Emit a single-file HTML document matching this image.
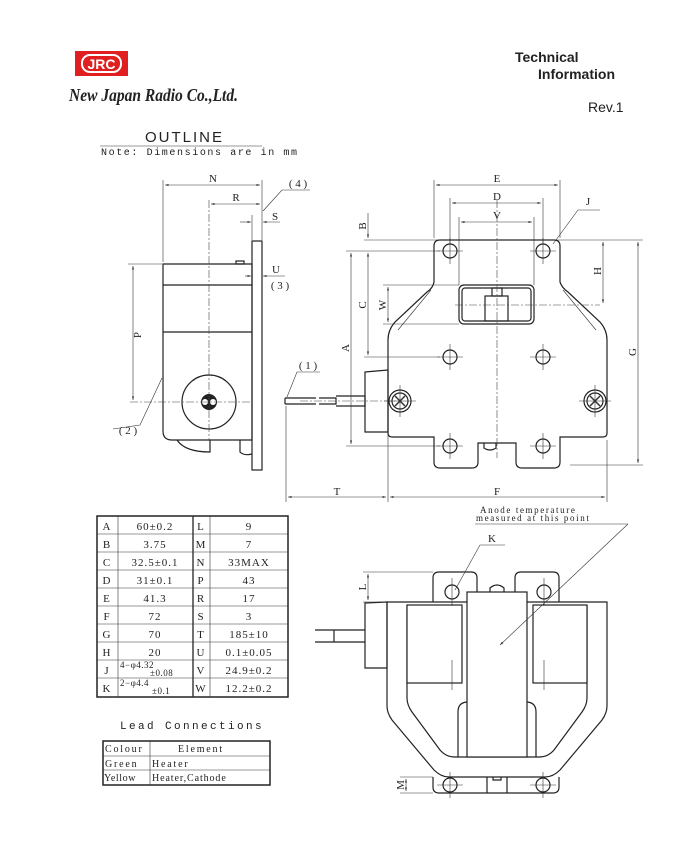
<!DOCTYPE html>
<html><head><meta charset="utf-8"><style>
html,body{margin:0;padding:0;background:#fff;}
svg{display:block;}
text{font-family:"Liberation Serif",serif;fill:#222;}
.l{stroke:#222;fill:none;stroke-width:1.2}
.t{stroke:#333;fill:none;stroke-width:0.6}
.c{stroke:#444;fill:none;stroke-width:0.6;stroke-dasharray:8 2 2 2}
.w{fill:#fff;stroke:#222;stroke-width:1.2}
</style></head><body>
<svg width="697" height="861" viewBox="0 0 697 861" xmlns="http://www.w3.org/2000/svg">
<defs>
<marker id="a" viewBox="0 0 10 6" refX="10" refY="3" markerWidth="6" markerHeight="4" orient="auto-start-reverse"><path d="M0,0L10,3L0,6z" fill="#333"/></marker>
</defs>
<!-- header -->
<rect x="75" y="51" width="53" height="25" fill="#e02020"/>
<rect x="82" y="55" width="39" height="17" rx="8" fill="none" stroke="#fff" stroke-width="2"/>
<text x="101.5" y="69" text-anchor="middle" font-weight="bold" font-size="14" style="fill:#fff;font-family:'Liberation Sans',sans-serif">JRC</text>
<text x="69" y="101" font-size="18" font-style="italic" font-weight="bold" textLength="169" lengthAdjust="spacingAndGlyphs" style="font-family:'Liberation Serif',serif">New Japan Radio Co.,Ltd.</text>
<text x="515" y="62" font-size="14" font-weight="bold" style="font-family:'Liberation Sans',sans-serif">Technical</text>
<text x="538" y="79" font-size="14" font-weight="bold" style="font-family:'Liberation Sans',sans-serif">Information</text>
<text x="588" y="112" font-size="14" style="font-family:'Liberation Sans',sans-serif">Rev.1</text>
<text x="145" y="142" font-size="15" letter-spacing="2" style="font-family:'Liberation Sans',sans-serif">OUTLINE</text>
<line x1="100" y1="146" x2="262" y2="146" stroke="#999" stroke-width="1"/>
<text x="101" y="155" font-size="10" letter-spacing="1.6" style="font-family:'Liberation Mono',monospace">Note: Dimensions are in mm</text>

<!-- SIDE VIEW -->
<path class="l" d="M163,264 H252 V440 H172 Q163,440 163,431 Z"/>
<line class="l" x1="163" y1="285" x2="252" y2="285"/>
<line class="l" x1="163" y1="332" x2="252" y2="332"/>
<rect class="l" x="252" y="241" width="10" height="229"/>
<rect class="l" x="236" y="261" width="8" height="3"/>
<path class="l" d="M177,440 Q185,452 210,452 V440 M240,440 V452 Q244,456 252,454"/>
<circle class="l" cx="209" cy="402" r="27"/>
<circle cx="209" cy="402" r="8" fill="#222"/>
<circle cx="205" cy="402" r="3" fill="#fff"/><circle cx="213" cy="402" r="3" fill="#fff"/>
<line class="c" x1="209" y1="200" x2="209" y2="440"/>
<line class="c" x1="130" y1="402" x2="250" y2="402"/>
<line class="t" x1="163" y1="180" x2="163" y2="262"/>
<line class="t" x1="262" y1="180" x2="262" y2="240"/>
<line class="t" x1="252" y1="215" x2="252" y2="240"/>
<line class="t" x1="165" y1="185" x2="260" y2="185" marker-start="url(#a)" marker-end="url(#a)"/>
<text x="213" y="182" font-size="11" text-anchor="middle">N</text>
<line class="t" x1="211" y1="204" x2="260" y2="204" marker-start="url(#a)" marker-end="url(#a)"/>
<text x="236" y="201" font-size="11" text-anchor="middle">R</text>
<line class="t" x1="240" y1="222" x2="251" y2="222" marker-end="url(#a)"/>
<line class="t" x1="280" y1="222" x2="263" y2="222" marker-end="url(#a)"/>
<text x="275" y="220" font-size="11" text-anchor="middle">S</text>
<polyline class="t" points="263,211 282,190 310,190"/>
<text x="298" y="187" font-size="11" text-anchor="middle">( 4 )</text>
<line class="t" x1="245" y1="276" x2="251" y2="276" marker-end="url(#a)"/>
<line class="t" x1="285" y1="276" x2="263" y2="276" marker-end="url(#a)"/>
<text x="276" y="273" font-size="11" text-anchor="middle">U</text>
<text x="280" y="289" font-size="11" text-anchor="middle">( 3 )</text>
<line class="t" x1="128" y1="264" x2="162" y2="264"/>
<line class="t" x1="133" y1="266" x2="133" y2="400" marker-start="url(#a)" marker-end="url(#a)"/>
<text x="0" y="0" font-size="11" transform="translate(141,335) rotate(-90)" text-anchor="middle">P</text>
<polyline class="t" points="162,378 140,425 113,429"/>
<text x="128" y="434" font-size="11" text-anchor="middle">( 2 )</text>
<!-- lead -->
<path class="l" d="M285,398 H316 M285,404 H316 M285,398 V404 M319,398 H336 V404 H319 M336,396 H365 V406 H336"/>
<path class="l" d="M365,372 L388,370 V432 L365,432 Z"/>
<line class="c" x1="300" y1="401" x2="400" y2="401"/>
<polyline class="t" points="287,397 297,372 320,372"/>
<text x="308" y="369" font-size="11" text-anchor="middle">( 1 )</text>
<line class="t" x1="286" y1="406" x2="286" y2="502"/>
<line class="t" x1="388" y1="434" x2="388" y2="502"/>
<line class="t" x1="288" y1="497" x2="386" y2="497" marker-start="url(#a)" marker-end="url(#a)"/>
<text x="337" y="495" font-size="11" text-anchor="middle">T</text>

<!-- FRONT VIEW -->
<path class="l" d="M440,240 H554 Q560,240 560,246 V282 Q562,288 568,292 L600,322 Q607,330 607,340 V433 Q607,437 603,437 H560 V462 Q560,468 554,468 H522 Q516,468 516,462 V443 H478 V462 Q478,468 472,468 H440 Q434,468 434,462 V437 H392 Q388,437 388,433 V340 Q388,330 395,322 L427,292 Q433,288 434,282 V246 Q434,240 440,240 Z"/>
<path class="t" d="M431,290 L398,330 M563,290 L596,330"/>
<rect class="l" x="459" y="285" width="75" height="39" rx="5"/>
<rect class="l" x="462" y="288" width="69" height="33" rx="3"/>
<rect class="l" x="485" y="296" width="23" height="25"/>
<rect class="l" x="492" y="288" width="10" height="8"/>
<path class="l" d="M484,443 V448 Q490,452 496,448 V443"/>
<line class="c" x1="497" y1="200" x2="497" y2="458"/>
<line class="c" x1="455" y1="305" x2="600" y2="305"/>
<g class="l">
<circle cx="450" cy="251" r="7"/><circle cx="543" cy="251" r="7"/>
<circle cx="450" cy="357" r="7"/><circle cx="543" cy="357" r="7"/>
<circle cx="450" cy="446" r="7"/><circle cx="543" cy="446" r="7"/>
<circle cx="400" cy="401" r="11"/><circle cx="400" cy="401" r="8"/>
<circle cx="595" cy="401" r="11"/><circle cx="595" cy="401" r="8"/>
</g>
<g class="t">
<path d="M437,251H463M450,238V264M530,251H556M543,238V264M437,357H463M450,344V370M530,357H556M543,344V370M437,446H463M450,433V459M530,446H556M543,433V459M384,401H416M400,385V417M579,401H611M595,385V417"/>
<path d="M395,396L405,406M395,406L405,396M590,396L600,406M590,406L600,396" stroke-width="1.5"/>
</g>
<!-- front dims -->
<g class="t">
<line x1="434" y1="180" x2="434" y2="238"/><line x1="560" y1="180" x2="560" y2="238"/>
<line x1="450" y1="198" x2="450" y2="244"/><line x1="543" y1="198" x2="543" y2="244"/>
<line x1="459" y1="217" x2="459" y2="285"/><line x1="534" y1="217" x2="534" y2="285"/>
<line x1="436" y1="185" x2="558" y2="185" marker-start="url(#a)" marker-end="url(#a)"/>
<line x1="452" y1="203" x2="541" y2="203" marker-start="url(#a)" marker-end="url(#a)"/>
<line x1="461" y1="222" x2="532" y2="222" marker-start="url(#a)" marker-end="url(#a)"/>
<line x1="364" y1="240" x2="643" y2="240"/>
<line x1="346" y1="251" x2="440" y2="251"/>
<line x1="364" y1="357" x2="440" y2="357"/>
<line x1="346" y1="446" x2="440" y2="446"/>
<line x1="383" y1="285" x2="459" y2="285"/>
<line x1="383" y1="324" x2="459" y2="324"/>
<line x1="368" y1="213" x2="368" y2="238" marker-end="url(#a)"/>
<line x1="368" y1="253" x2="368" y2="355" marker-start="url(#a)" marker-end="url(#a)"/>
<line x1="351" y1="253" x2="351" y2="444" marker-start="url(#a)" marker-end="url(#a)"/>
<line x1="388" y1="287" x2="388" y2="322" marker-start="url(#a)" marker-end="url(#a)"/>
<line x1="603" y1="242" x2="603" y2="303" marker-start="url(#a)" marker-end="url(#a)"/>
<line x1="638" y1="242" x2="638" y2="463" marker-start="url(#a)" marker-end="url(#a)"/>
<line x1="570" y1="465" x2="643" y2="465"/>
<line x1="607" y1="440" x2="607" y2="502"/>
<line x1="390" y1="497" x2="605" y2="497" marker-start="url(#a)" marker-end="url(#a)"/>
<polyline points="553,244 578,210 600,210"/>
</g>
<text x="497" y="182" font-size="11" text-anchor="middle">E</text>
<text x="497" y="200" font-size="11" text-anchor="middle">D</text>
<text x="497" y="219" font-size="11" text-anchor="middle">V</text>
<text x="588" y="205" font-size="11" text-anchor="middle">J</text>
<text font-size="11" transform="translate(366,226) rotate(-90)" text-anchor="middle">B</text>
<text font-size="11" transform="translate(366,305) rotate(-90)" text-anchor="middle">C</text>
<text font-size="11" transform="translate(349,348) rotate(-90)" text-anchor="middle">A</text>
<text font-size="11" transform="translate(386,305) rotate(-90)" text-anchor="middle">W</text>
<text font-size="11" transform="translate(601,271) rotate(-90)" text-anchor="middle">H</text>
<text font-size="11" transform="translate(636,352) rotate(-90)" text-anchor="middle">G</text>
<text x="497" y="495" font-size="11" text-anchor="middle">F</text>

<!-- TABLE -->
<g>
<rect x="97" y="516" width="191" height="181" fill="none" stroke="#222" stroke-width="1.5"/>
<g class="t" stroke="#444">
<line x1="118" y1="516" x2="118" y2="697"/><line x1="193" y1="516" x2="193" y2="697" stroke-width="1.4"/><line x1="210" y1="516" x2="210" y2="697"/>
<line x1="97" y1="534" x2="288" y2="534"/><line x1="97" y1="552" x2="288" y2="552"/><line x1="97" y1="570" x2="288" y2="570"/>
<line x1="97" y1="588" x2="288" y2="588"/><line x1="97" y1="606" x2="288" y2="606"/><line x1="97" y1="624" x2="288" y2="624"/>
<line x1="97" y1="642" x2="288" y2="642"/><line x1="97" y1="660" x2="288" y2="660"/><line x1="97" y1="678" x2="288" y2="678"/>
</g>
<g font-size="11" text-anchor="middle" letter-spacing="1">
<text x="107" y="530">A</text><text x="155" y="530">60±0.2</text><text x="201" y="530">L</text><text x="249" y="530">9</text>
<text x="107" y="548">B</text><text x="155" y="548">3.75</text><text x="201" y="548">M</text><text x="249" y="548">7</text>
<text x="107" y="566">C</text><text x="155" y="566">32.5±0.1</text><text x="201" y="566">N</text><text x="249" y="566">33MAX</text>
<text x="107" y="584">D</text><text x="155" y="584">31±0.1</text><text x="201" y="584">P</text><text x="249" y="584">43</text>
<text x="107" y="602">E</text><text x="155" y="602">41.3</text><text x="201" y="602">R</text><text x="249" y="602">17</text>
<text x="107" y="620">F</text><text x="155" y="620">72</text><text x="201" y="620">S</text><text x="249" y="620">3</text>
<text x="107" y="638">G</text><text x="155" y="638">70</text><text x="201" y="638">T</text><text x="249" y="638">185±10</text>
<text x="107" y="656">H</text><text x="155" y="656">20</text><text x="201" y="656">U</text><text x="249" y="656">0.1±0.05</text>
<text x="107" y="674">J</text><text x="201" y="674">V</text><text x="249" y="674">24.9±0.2</text>
<text x="107" y="692">K</text><text x="201" y="692">W</text><text x="249" y="692">12.2±0.2</text>
</g>
<g font-size="9" letter-spacing="0.5">
<text x="120" y="668">4−φ4.32</text><text x="150" y="676">±0.08</text>
<text x="120" y="686">2−φ4.4</text><text x="152" y="694">±0.1</text>
</g>
</g>
<text x="120" y="729" font-size="11" letter-spacing="2.4" style="font-family:'Liberation Mono',monospace">Lead Connections</text>
<rect x="103" y="741" width="167" height="44" fill="none" stroke="#222" stroke-width="1.5"/>
<g class="t"><line x1="150" y1="741" x2="150" y2="785"/><line x1="103" y1="756" x2="270" y2="756"/><line x1="103" y1="770" x2="270" y2="770"/></g>
<g font-size="10" letter-spacing="1.8" style="font-family:'Liberation Mono',monospace">
<text x="105" y="752">Colour</text><text x="178" y="752">Element</text>
<text x="105" y="767">Green</text><text x="152" y="767">Heater</text>
<text x="104" y="781" letter-spacing="0.6">Yellow</text><text x="152" y="781" letter-spacing="0.9">Heater,Cathode</text>
</g>

<!-- BOTTOM VIEW -->
<g font-size="9" letter-spacing="1.6" style="font-family:'Liberation Mono',monospace">
<text x="480" y="513">Anode temperature</text><text x="476" y="521">measured at this point</text>
</g>
<line class="t" x1="475" y1="524" x2="628" y2="524"/>
<path class="l" d="M433,602 V578 Q433,572 439,572 H471 Q477,572 477,578 V602"/>
<path class="l" d="M515,602 V578 Q515,572 521,572 H553 Q559,572 559,578 V602"/>
<path class="l" d="M490,592 V588 Q497,582 504,588 V592"/>
<path class="l" d="M387,602 H607 V706 Q607,713 602,720 L560,770 Q553,777 545,777 H449 Q441,777 434,770 L392,720 Q387,713 387,706 Z"/>
<path class="l" d="M407,605 V698 Q407,705 412,712 L440,750 Q446,757 455,757 H539 Q548,757 554,750 L582,712 Q587,705 587,698 V605"/>
<rect class="w" x="407" y="605" width="55" height="78"/>
<rect class="w" x="533" y="605" width="54" height="78"/>
<path class="l" d="M458,757 V712 Q458,702 468,702 H526 Q536,702 536,712 V757"/>
<rect class="w" x="467" y="592" width="60" height="165"/>
<line class="t" x1="628" y1="524" x2="500" y2="645" marker-end="url(#a)"/>
<path class="l" d="M433,777 V787 Q433,793 439,793 H553 Q559,793 559,787 V777"/>
<path class="l" d="M487,777 V793 M507,777 V793 M493,777 V780 H501 V777"/>
<g class="l"><circle cx="452" cy="592" r="7"/><circle cx="544" cy="592" r="7"/><circle cx="450" cy="785" r="7"/><circle cx="543" cy="785" r="7"/></g>
<path class="t" d="M452,578V606M544,578V606M437,785H463M450,772V798M530,785H556M543,772V798M452,660V690M544,660V690"/>
<path class="l" d="M365,603 L387,602 V668 L365,668 Z"/>
<path class="l" d="M315,630 H365 M315,642 H365 M334,630 V642"/>
<polyline class="t" points="455,590 480,545 505,545"/>
<text x="492" y="542" font-size="11" text-anchor="middle">K</text>
<g class="t">
<line x1="363" y1="572" x2="433" y2="572"/><line x1="363" y1="602" x2="387" y2="602"/>
<line x1="368" y1="574" x2="368" y2="600" marker-start="url(#a)" marker-end="url(#a)"/>
<line x1="400" y1="777" x2="433" y2="777"/><line x1="400" y1="793" x2="433" y2="793"/>
<line x1="406" y1="779" x2="406" y2="791" marker-start="url(#a)" marker-end="url(#a)"/>
</g>
<text font-size="11" transform="translate(366,587) rotate(-90)" text-anchor="middle">L</text>
<text font-size="11" transform="translate(404,785) rotate(-90)" text-anchor="middle">M</text>
</svg>
</body></html>
